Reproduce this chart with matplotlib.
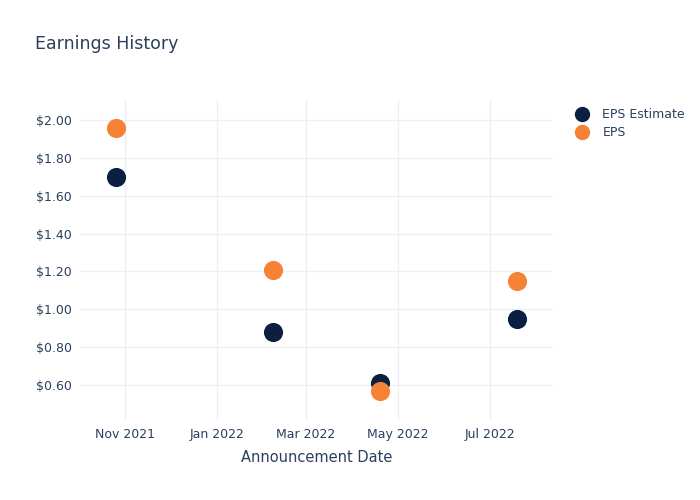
import matplotlib
matplotlib.use("Agg")
import matplotlib.pyplot as plt
import matplotlib.dates as mdates
from matplotlib.ticker import FuncFormatter
import pandas as pd

# announcement dates and eps values
fechas = pd.to_datetime(["2021-10-26", "2022-02-07", "2022-04-19", "2022-07-19"])
eps_estimate = [1.70, 0.88, 0.61, 0.95]
eps = [1.96, 1.21, 0.57, 1.15]
ticks_x = pd.to_datetime(["2021-11-01", "2022-01-01", "2022-03-01", "2022-05-01", "2022-07-01"])
ticks_y = [0.6, 0.8, 1.0, 1.2, 1.4, 1.6, 1.8, 2.0]

texto = "#2a3f5f"
grid = "#ebf0f8"

fig = plt.figure(figsize=(7, 5), dpi=100)
ax = fig.add_axes([80 / 700, 80 / 500, 473 / 700, 320 / 500])

ax.scatter(fechas, eps_estimate, s=190, color="#0b1f41", label="EPS Estimate", zorder=3, linewidths=0)
ax.scatter(fechas, eps, s=190, color="#f58235", label="EPS", zorder=4, linewidths=0)

ax.set_xlim(pd.Timestamp("2021-10-02"), pd.Timestamp("2022-08-12"))
ax.set_ylim(0.415, 2.106)
ax.set_xticks(ticks_x)
ax.xaxis.set_major_formatter(mdates.DateFormatter("%b %Y"))
ax.set_yticks(ticks_y)
ax.yaxis.set_major_formatter(FuncFormatter(lambda v, p: "${:.2f}".format(v)))

ax.grid(True, color=grid, linewidth=1, zorder=0)
ax.set_axisbelow(True)
for s in ax.spines.values():
    s.set_visible(False)
ax.tick_params(length=0, labelsize=9, colors=texto, pad=6)

ax.set_xlabel("Announcement Date", fontsize=10.5, color=texto, labelpad=6)
fig.text(35 / 700, 1 - 44 / 500, "Earnings History", fontsize=12.5, color=texto, va="center")

leg = ax.legend(loc="upper left", bbox_to_anchor=(1.02, 1.0), frameon=False, fontsize=9,
                labelcolor=texto, handletextpad=0.6, borderaxespad=0.2, labelspacing=0.4,
                markerscale=0.8)

fig.savefig("out.png", dpi=100)
